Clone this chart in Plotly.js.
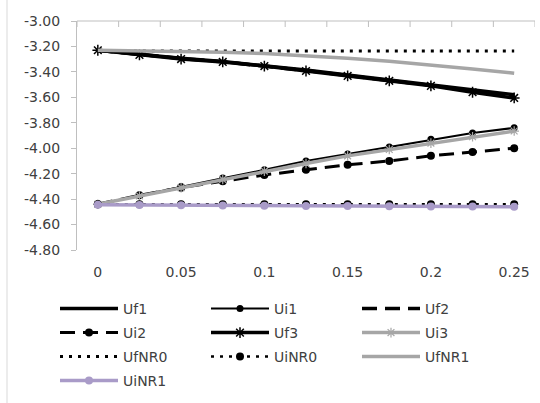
<!DOCTYPE html>
<html>
<head>
<meta charset="utf-8">
<script src="https://cdn.plot.ly/plotly-3.0.1.min.js"></script>
<style>
  html, body { margin: 0; padding: 0; background: #fff; }
  #chart { width: 540px; height: 403px; }
</style>
</head>
<body>
<div id="chart"></div>
<script>
// Categories (x) and tick labels
const categories = ['0', '0.025', '0.05', '0.075', '0.1', '0.125', '0.15', '0.175', '0.2', '0.225', '0.25'];
const xLabelCats = ['0', '0.05', '0.1', '0.15', '0.2', '0.25'];
const yTickVals = [-3.0, -3.2, -3.4, -3.6, -3.8, -4.0, -4.2, -4.4, -4.6, -4.8];
const yTickText = ['-3.00', '-3.20', '-3.40', '-3.60', '-3.80', '-4.00', '-4.20', '-4.40', '-4.60', '-4.80'];

// Series values
const Uf1   = [-3.23, -3.262, -3.292, -3.318, -3.350, -3.386, -3.424, -3.462, -3.502, -3.542, -3.580];
const Ui1   = [-4.44, -4.370, -4.300, -4.235, -4.170, -4.100, -4.045, -3.990, -3.930, -3.880, -3.840];
const Uf2   = [-3.23, -3.264, -3.295, -3.320, -3.352, -3.390, -3.428, -3.466, -3.506, -3.550, -3.592];
const Ui2   = [-4.44, -4.370, -4.310, -4.260, -4.210, -4.170, -4.130, -4.100, -4.060, -4.030, -4.000];
const Uf3   = [-3.23, -3.267, -3.299, -3.322, -3.354, -3.393, -3.432, -3.470, -3.510, -3.560, -3.605];
const Ui3   = [-4.44, -4.375, -4.310, -4.245, -4.180, -4.120, -4.060, -4.010, -3.960, -3.910, -3.865];
const UfNR0 = [-3.235, -3.235, -3.235, -3.235, -3.235, -3.235, -3.235, -3.235, -3.235, -3.235, -3.235];
const UiNR0 = [-4.44, -4.44, -4.44, -4.44, -4.44, -4.44, -4.44, -4.44, -4.44, -4.44, -4.44];
const UfNR1 = [-3.23, -3.233, -3.238, -3.245, -3.256, -3.272, -3.292, -3.317, -3.345, -3.377, -3.410];
const UiNR1 = [-4.445, -4.447, -4.449, -4.450, -4.452, -4.454, -4.455, -4.457, -4.458, -4.459, -4.460];

const BLACK = '#000000';
const GRAY = '#A6A6A6';
const PURPLE = '#A99BC8';
const TEXT = '#404040';
const AXIS = '#BFBFBF';
const FONT = 'DejaVu Sans, sans-serif';

// Plot box in pixels
const W = 540, H = 403;
const M = { l: 77, r: 5, t: 21, b: 153 };
const plotW = W - M.l - M.r, plotH = H - M.t - M.b;

// legend rows: three entries per row, 24px apart
const legendRowTop = 293, legendRowStep = 24;
const legendIds = ['legend', 'legend2', 'legend3', 'legend4'];

function series(name, y, line, marker, slot) {
  const t = {
    type: 'scatter',
    mode: marker ? 'lines+markers' : 'lines',
    name: name,
    x: categories,
    y: y,
    line: line,
    legend: legendIds[Math.floor(slot / 3)]
  };
  if (marker) t.marker = marker;
  return t;
}

const traces = [
  series('Uf1', Uf1, { color: BLACK, width: 3.5 }, null, 0),
  series('Ui1', Ui1, { color: BLACK, width: 2 }, { symbol: 'circle', size: 7, color: BLACK }, 1),
  series('Uf2', Uf2, { color: BLACK, width: 3.5, dash: '15px,8px' }, null, 2),
  series('Ui2', Ui2, { color: BLACK, width: 3, dash: '15px,8px' }, { symbol: 'circle', size: 8, color: BLACK }, 3),
  series('Uf3', Uf3, { color: BLACK, width: 3.5 }, { symbol: 'asterisk-open', size: 9, color: BLACK, line: { color: BLACK, width: 1.5 } }, 4),
  series('Ui3', Ui3, { color: GRAY, width: 3.5 }, { symbol: 'asterisk-open', size: 8, color: GRAY, line: { color: GRAY, width: 1.2 } }, 5),
  series('UfNR0', UfNR0, { color: BLACK, width: 3, dash: '3px,6px' }, null, 6),
  series('UiNR0', UiNR0, { color: BLACK, width: 2.5, dash: '3px,6px' }, { symbol: 'circle', size: 8, color: BLACK }, 7),
  series('UfNR1', UfNR1, { color: GRAY, width: 3.5 }, null, 8),
  series('UiNR1', UiNR1, { color: PURPLE, width: 3.5 }, { symbol: 'circle', size: 8, color: PURPLE }, 9)
];

function legendRow(i) {
  return {
    orientation: 'h',
    x: (55 - M.l) / plotW,
    xanchor: 'left',
    y: (M.t + plotH - (legendRowTop + i * legendRowStep)) / plotH,
    yanchor: 'top',
    entrywidth: 78,
    entrywidthmode: 'pixels',
    itemwidth: 58,
    font: { family: FONT, size: 14, color: TEXT },
    bgcolor: 'rgba(0,0,0,0)',
    traceorder: 'normal'
  };
}

// Category axis line along the top edge, with inward ticks on the category boundaries
const tickLen = 6 / plotH;
const n = categories.length;
const shapes = [
  {
    type: 'line', xref: 'x', yref: 'paper', layer: 'above',
    x0: -0.5, x1: n - 0.5, y0: 1, y1: 1,
    line: { color: AXIS, width: 1 }
  }
];
for (let k = 0; k <= n; k++) {
  shapes.push({
    type: 'line', xref: 'x', yref: 'paper', layer: 'above',
    x0: k - 0.5, x1: k - 0.5, y0: 1, y1: 1 - tickLen,
    line: { color: AXIS, width: 1 }
  });
}
// chart frame edge at the left
const frameX = (7 - M.l) / plotW;
shapes.push({
  type: 'line', xref: 'paper', yref: 'paper',
  x0: frameX, x1: frameX,
  y0: -(H - M.t - plotH) / plotH, y1: (plotH + M.t) / plotH,
  line: { color: '#D9D9D9', width: 1 }
});

const layout = {
  width: W,
  height: H,
  margin: M,
  paper_bgcolor: '#ffffff',
  plot_bgcolor: '#ffffff',
  font: { family: FONT, size: 14, color: TEXT },
  showlegend: true,
  xaxis: {
    type: 'category',
    range: [-0.5, n - 0.5],
    categoryarray: categories,
    categoryorder: 'array',
    tickmode: 'array',
    tickvals: xLabelCats,
    ticktext: xLabelCats,
    ticks: '',
    showline: false,
    showgrid: false,
    zeroline: false,
    ticklabelstandoff: 12,
    fixedrange: true
  },
  yaxis: {
    range: [-4.8, -3.0],
    tickmode: 'array',
    tickvals: yTickVals,
    ticktext: yTickText,
    ticks: 'outside',
    ticklen: 5,
    tickwidth: 1,
    tickcolor: AXIS,
    showline: true,
    linecolor: AXIS,
    linewidth: 1,
    showgrid: false,
    zeroline: false,
    ticklabelstandoff: 8,
    fixedrange: true
  },
  legend: legendRow(0),
  legend2: legendRow(1),
  legend3: legendRow(2),
  legend4: legendRow(3),
  shapes: shapes
};

Plotly.newPlot('chart', traces, layout, { staticPlot: true, displayModeBar: false });
</script>
</body>
</html>
